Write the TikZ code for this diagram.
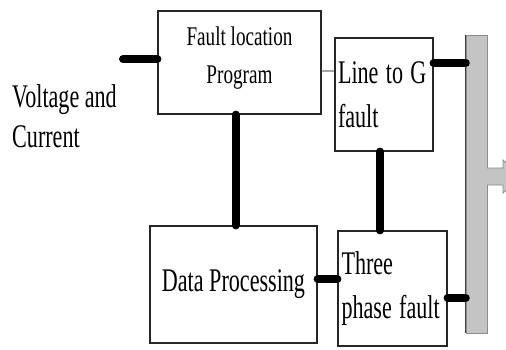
\documentclass[tikz,border=0pt]{standalone}
\usepackage{fontspec}
\setmainfont{Liberation Serif}
\usepackage{graphicx}
\usetikzlibrary{positioning}
\definecolor{RailGray}{HTML}{C4C4C4}
\definecolor{RailEdge}{HTML}{8C8C8C}
\newcommand{\narrow}[2][0.67]{\scalebox{#1}[1]{#2}}

\begin{document}
\begin{tikzpicture}[
  x=1pt,y=-1pt,
  blk/.style={draw=black!85,line width=1.2pt,fill=white,inner sep=3pt,
    font=\fontsize{33}{44}\selectfont},
  wire/.style={line width=8pt,line cap=round,color=black},
  tap/.style={line width=2pt,color=gray!70}
]
  \useasboundingbox (0,0) rectangle (506,350);
  % blocks
  \node[blk,minimum width=163,minimum height=103,align=center,
    font=\fontsize{27}{38.4}\selectfont,text depth=15pt] (fault) at (239.5,62.5)
    {\narrow[0.71]{Fault location}\\\narrow[0.71]{Program}};
  \node[blk,minimum width=167,minimum height=117] (dp) at (233.5,284.5)
    {\narrow{Data Processing}};
  \node[blk,minimum width=98,minimum height=113,text width=92,align=left] (lg)
    at (384,94.5) {\narrow{Line to G}\\\narrow{fault}};
  \node[blk,minimum width=109,minimum height=115,text width=102,align=left] (tp)
    at (392.5,288.5) {\narrow{Three}\\\narrow{phase fault}};
  \node[anchor=north west,inner sep=0,align=left,
    font=\fontsize{33}{40}\selectfont] (vi) at (12,84.5)
    {\narrow{Voltage and}\\\narrow{Current}};
  % bus bar with its outlet
  \node[draw=RailEdge,fill=RailGray,minimum width=21,minimum height=298,
    inner sep=0] (rail) at (476.5,184) {};
  \draw[black!75,line width=1pt] (rail.north west) -- (rail.south west);
  \draw[draw=RailEdge,fill=RailGray,line width=0.8pt]
    (487,168) -- (503,168) -- (503,160) -- (522,176.5) -- (503,193)
    -- (503,185) -- (487,185);
  % links
  \coordinate (src) at (123,59);
  \draw[wire] (src) -- (src -| fault.west);
  \draw[wire] ([xshift=2]dp.north) -- ([xshift=2]dp.north |- fault.south);
  \draw[tap] ([yshift=-8.5]fault.east) -- ([yshift=-8.5]fault.east -| lg.west);
  \draw[wire] ([yshift=31.5]lg.east) -- ([yshift=31.5]lg.east -| rail.west);
  \draw[wire] ([xshift=-4]lg.south) -- ([xshift=-4]lg.south |- tp.north);
  \draw[wire] ([yshift=5.5]dp.east) -- ([yshift=5.5]dp.east -| tp.west);
  \draw[wire] ([yshift=-9.5]tp.east) -- ([yshift=-9.5]tp.east -| rail.west);
\end{tikzpicture}
\end{document}
